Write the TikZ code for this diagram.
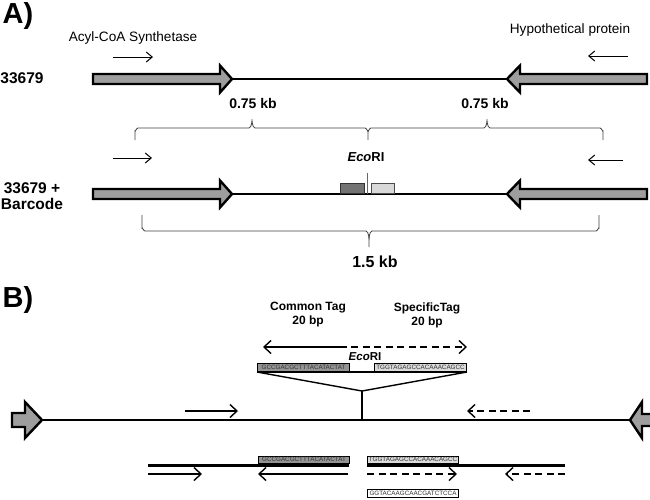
\documentclass[tikz,border=0pt]{standalone}
\usepackage{fontspec}
\setmainfont{Liberation Sans}
\usetikzlibrary{arrows.meta}
\begin{document}
\begin{tikzpicture}[x=1pt,y=-1pt,
  gene/.style={fill=black!38,draw=black,line width=2.4pt,line join=miter},
  dna/.style={line width=1.8pt},
  dnab/.style={line width=2.6pt},
  primer/.style={line width=1pt,-{Straight Barb[length=6pt,width=10pt]}},
  primerb/.style={line width=1.4pt,-{Straight Barb[length=7pt,width=13pt]}},
  dashb/.style={primerb,dash pattern=on 7pt off 4.5pt},
  bracket/.style={draw=black!75,line width=0.8pt},
  lbl/.style={inner sep=0pt,font=\fontsize{13.6}{15}\selectfont},
  blbl/.style={inner sep=0pt,font=\fontsize{14}{16}\selectfont\bfseries},
  seq/.style={inner sep=0pt,font=\fontsize{6.3}{7}\selectfont,text=black!80}]
\useasboundingbox (0,0) rectangle (650,499);
% ---------- A ----------
\node[inner sep=0pt,font=\fontsize{29}{32}\selectfont\bfseries] (A) at (18,16) {A)};
\node[lbl] (acyl) at (133,38) {Acyl-CoA Synthetase};
\node[lbl] (hyp) at (570,30) {Hypothetical protein};
\node[blbl,font=\fontsize{15.5}{17}\selectfont\bfseries] (s1) at (22,78) {33679};
\node[blbl,font=\fontsize{15.5}{17}\selectfont\bfseries,align=center] (s2) at (32,196) {33679 +\\[-1pt]Barcode};
\coordinate (a1f) at (113,57); \coordinate (a1t) at (153,57);
\coordinate (a2f) at (628,56); \coordinate (a2t) at (588,56);
\draw[primer] (a1f) -- (a1t);
\draw[primer] (a2f) -- (a2t);
% row 1
\coordinate (l1) at (232,79); \coordinate (r1) at (507,79);
\draw[dna] (l1) -- (r1);
\draw[gene] (93,74) -- (220,74) -- (220,65.5) -- (l1) -- (220,92.5) -- (220,84) -- (93,84) -- cycle;
\draw[gene] (647,74) -- (520,74) -- (520,65.5) -- (r1) -- (520,92.5) -- (520,84) -- (647,84) -- cycle;
\node[blbl] (k1) at (253,103) {0.75 kb};
\node[blbl] (k2) at (485,103) {0.75 kb};
% top braces
\draw[bracket] (135,140) -- (135,131) to[out=-90,in=180] (138,128) -- (249,128) to[out=0,in=90] (252,121) to[out=90,in=180] (255,128) -- (365,128) to[out=0,in=-90] (368,131) -- (368,140);
\draw[bracket] (368,131) to[out=-90,in=180] (371,128) -- (484,128) to[out=0,in=90] (487,121) to[out=90,in=180] (490,128) -- (600,128) to[out=0,in=-90] (603,131) -- (603,140);
% row 2
\coordinate (b1f) at (113,158); \coordinate (b1t) at (152,158);
\coordinate (b2f) at (623,160); \coordinate (b2t) at (588,160);
\draw[primer] (b1f) -- (b1t);
\draw[primer] (b2f) -- (b2t);
\node[blbl,font=\fontsize{13}{15}\selectfont\bfseries] (eco1) at (366,157) {\textit{Eco}RI};
\coordinate (l2) at (232,194); \coordinate (r2) at (507,194);
\draw[dna] (l2) -- (r2);
\draw[gene] (93,189) -- (220,189) -- (220,180.5) -- (l2) -- (220,207.5) -- (220,199) -- (93,199) -- cycle;
\draw[gene] (647,189) -- (520,189) -- (520,180.5) -- (r2) -- (520,207.5) -- (520,199) -- (647,199) -- cycle;
\draw[fill=black!55,draw=black!80,line width=0.6pt] (340,183) rectangle (364,193.5);
\draw[fill=black!15,draw=black!70,line width=0.6pt] (371,183) rectangle (394,193.5);
\coordinate (cut1) at (367,173); \coordinate (cut2) at (367,194);
\draw[black!60,line width=0.7pt] (cut1) -- (cut2);
% bottom brace
\draw[bracket] (142,215) -- (142,228) to[out=90,in=180] (145,231) -- (366,231) to[out=0,in=-90] (369,238) -- (369,247);
\draw[bracket] (369,238) to[out=-90,in=180] (372,231) -- (596,231) to[out=0,in=90] (599,228) -- (599,215);
\node[blbl,font=\fontsize{16}{18}\selectfont\bfseries] (k3) at (375,262) {1.5 kb};
% ---------- B ----------
\node[inner sep=0pt,font=\fontsize{29}{32}\selectfont\bfseries] (B) at (18,300) {B)};
\node[inner sep=0pt,font=\fontsize{12}{14}\selectfont\bfseries,align=center] (ct) at (308,315) {Common Tag\\20 bp};
\node[inner sep=0pt,font=\fontsize{12}{14}\selectfont\bfseries,align=center] (st) at (427,315) {SpecificTag\\20 bp};
\coordinate (c1f) at (347,347); \coordinate (c1t) at (263,347);
\coordinate (c2f) at (351,347); \coordinate (c2t) at (467,347);
\draw[primerb] (c1f) -- (c1t);
\draw[dashb] (c2f) -- (c2t);
\node[inner sep=0pt,font=\fontsize{11.5}{13}\selectfont\bfseries] (eco2) at (365,357) {\textit{Eco}RI};
\coordinate (tl) at (257,372); \coordinate (tr) at (467,372);
\draw[line width=2.4pt] (tl) -- (tr);
\node[seq,draw=black,line width=1pt,fill=black!42,minimum width=92pt,minimum height=8pt,anchor=south west] (g1) at (257,371.5) {GCCGACGCTTTACATACTAT};
\node[seq,draw=black,line width=1pt,fill=black!14,minimum width=92pt,minimum height=8pt,anchor=south east] (g2) at (467,371.5) {TGGTAGAGCCACAAACAGCC};
\coordinate (m) at (362,391); \coordinate (mb) at (362,420);
\draw[line width=1.4pt] (tl) -- (m) -- (tr);
\draw[line width=1.4pt] (m) -- (mb);
% main line
\coordinate (L) at (42,420); \coordinate (R) at (630,420);
\draw[dnab] (L) -- (R);
\draw[gene] (12,413) -- (25,413) -- (25,402) -- (L) -- (25,438) -- (25,427) -- (12,427) -- cycle;
\draw[gene] (656,414) -- (642,414) -- (642,402) -- (R) -- (642,438) -- (642,426) -- (656,426) -- cycle;
\coordinate (d1f) at (185,411); \coordinate (d1t) at (238,411);
\coordinate (d2f) at (530,411); \coordinate (d2t) at (467,411);
\draw[primerb] (d1f) -- (d1t);
\draw[dashb] (d2f) -- (d2t);
% products
\coordinate (p1) at (148,465); \coordinate (p2) at (349,465);
\coordinate (p3) at (367,465); \coordinate (p4) at (565,465);
\draw[dnab,line width=3pt] (p1) -- (p2);
\draw[dnab,line width=3pt] (p3) -- (p4);
\node[seq,draw=black,line width=1pt,fill=black!42,minimum width=91pt,minimum height=7.5pt,anchor=south west] (h1) at (258,464) {GCCGACGCTTTACATACTAT};
\node[seq,draw=black,line width=1pt,fill=black!14,minimum width=91pt,minimum height=7.5pt,anchor=south west] (h2) at (367,464) {TGGTAGAGCCACAAACAGCC};
\coordinate (e1f) at (148,474); \coordinate (e1t) at (202,474);
\coordinate (e2f) at (348,474); \coordinate (e2t) at (258,474);
\coordinate (e3f) at (367,474); \coordinate (e3t) at (457,474);
\coordinate (e4f) at (565,474); \coordinate (e4t) at (505,474);
\draw[primerb] (e1f) -- (e1t);
\draw[primerb] (e2f) -- (e2t);
\draw[dashb] (e3f) -- (e3t);
\draw[dashb] (e4f) -- (e4t);
\node[seq,draw=black,line width=1pt,fill=white,minimum width=91pt,minimum height=8pt,anchor=north west] (h3) at (367,489) {GGTACAAGCAACGATCTCCA};
\end{tikzpicture}
\end{document}
